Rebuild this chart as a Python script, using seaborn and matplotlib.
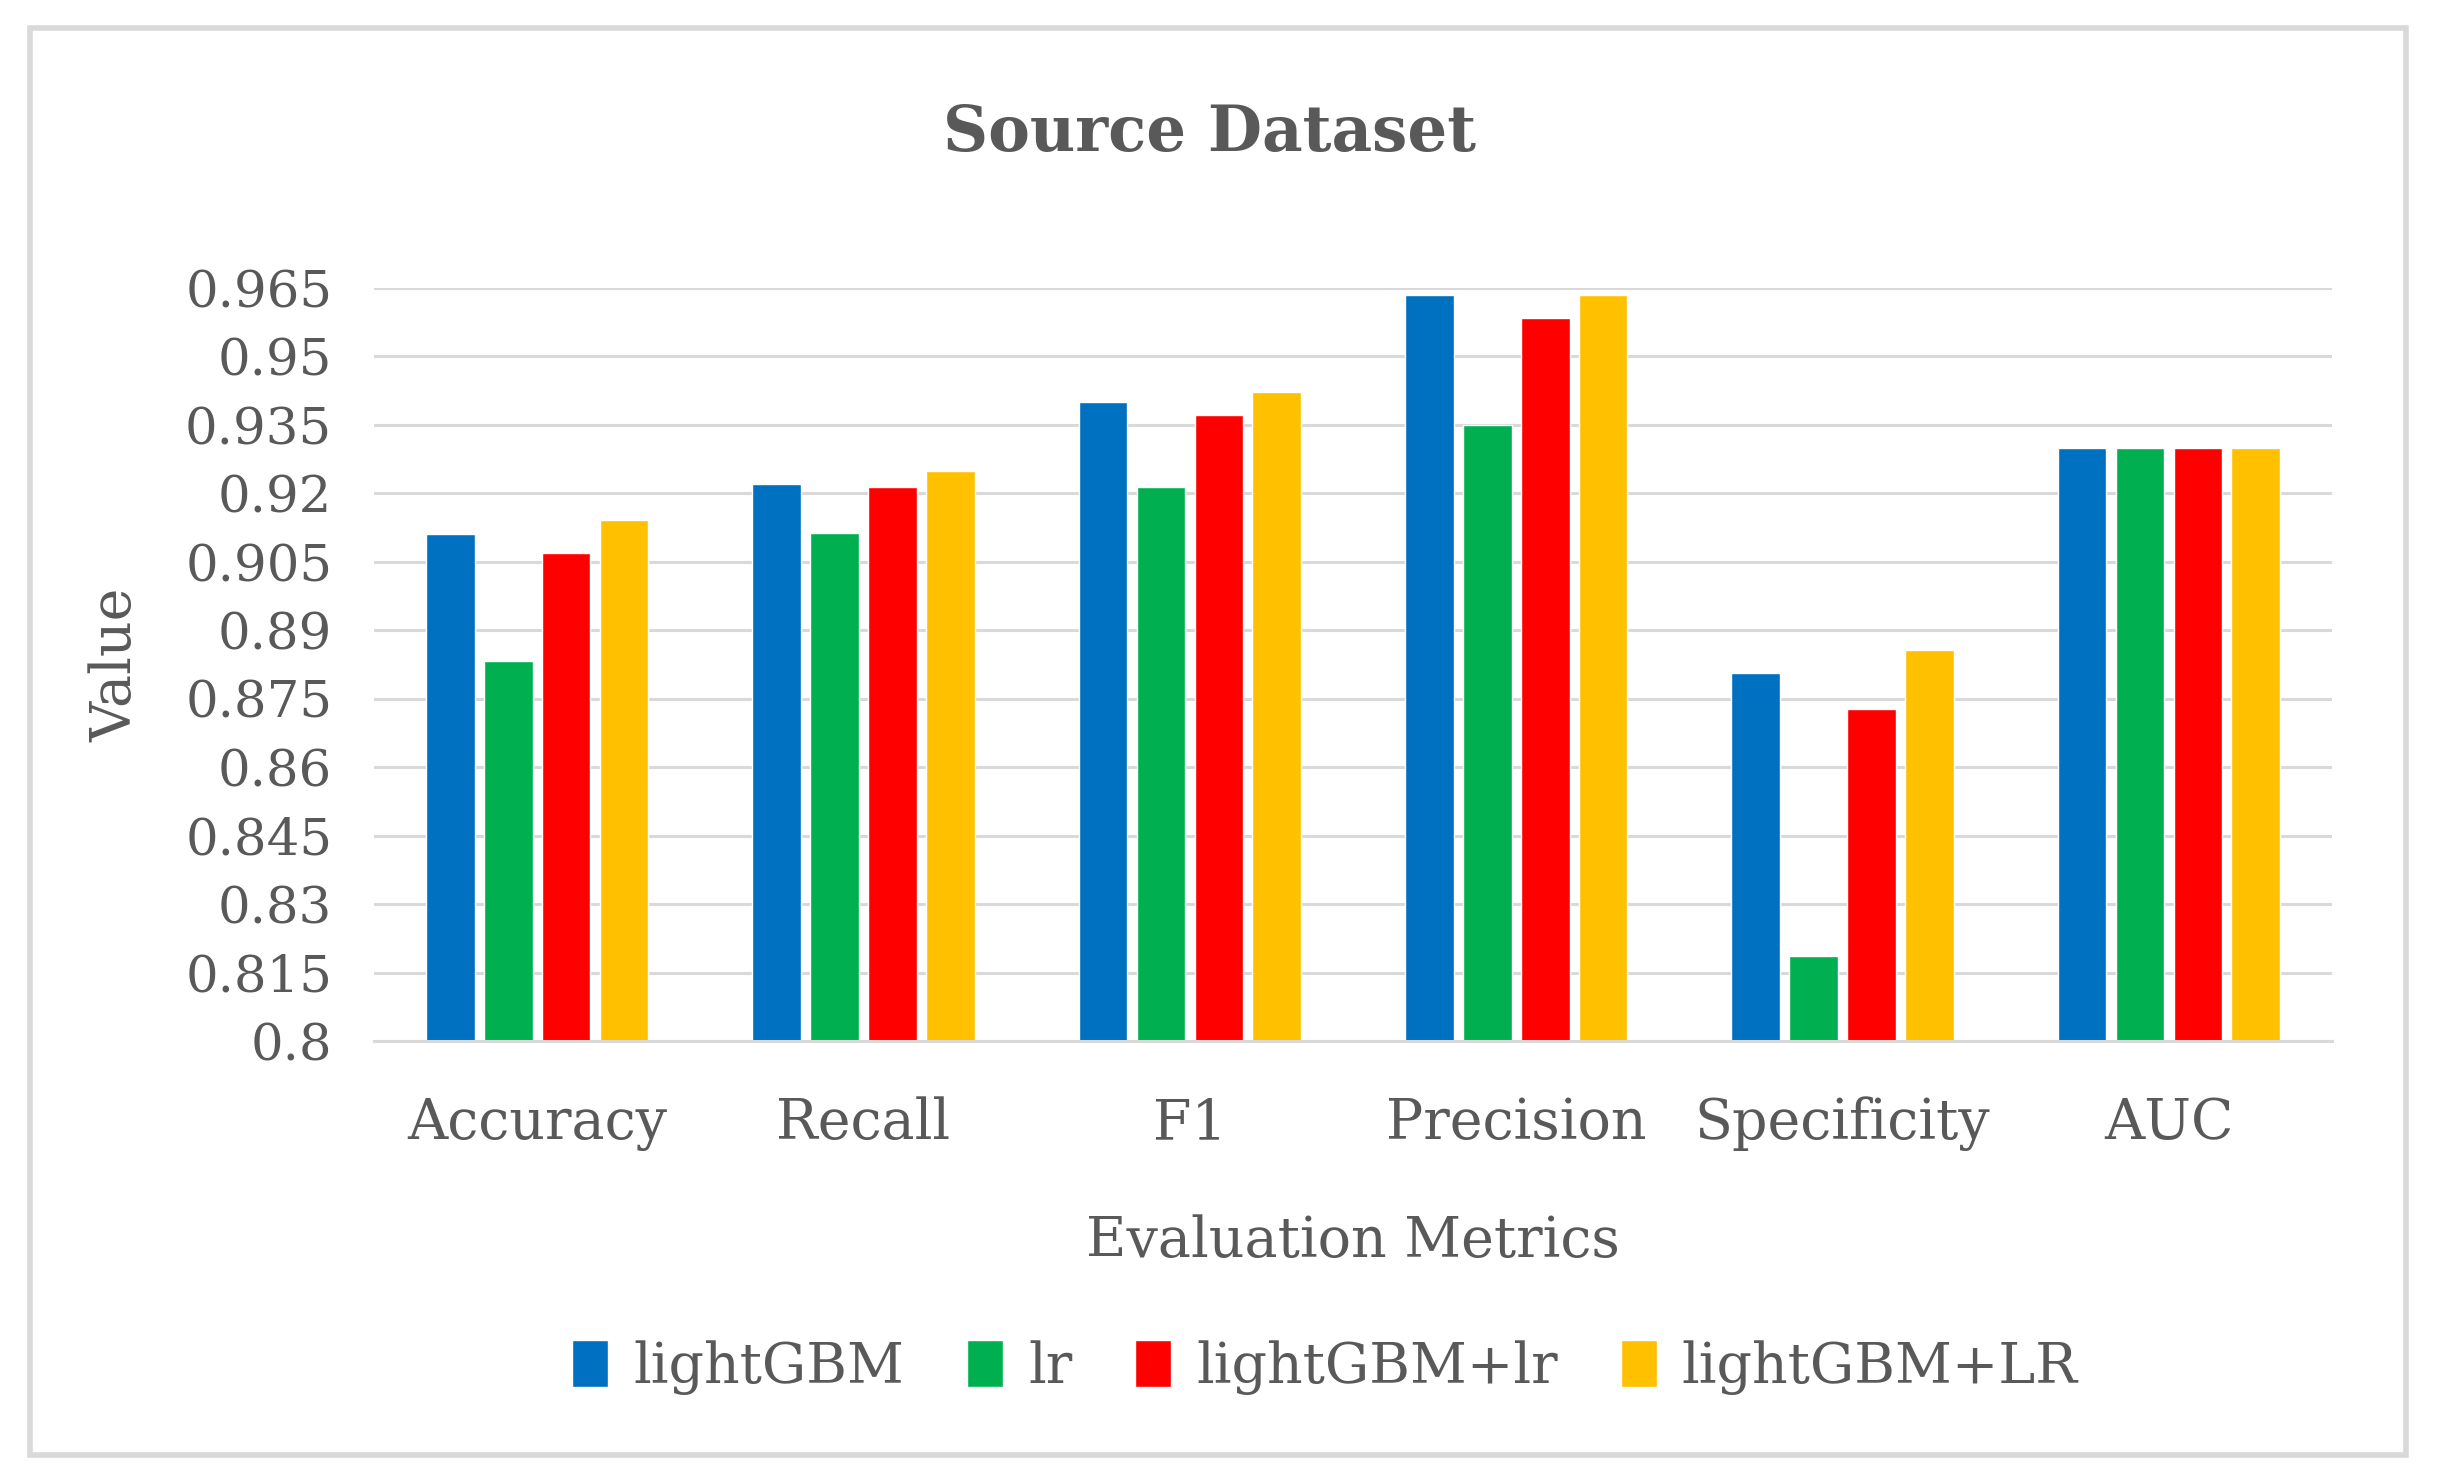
import matplotlib
matplotlib.use("Agg")
import matplotlib.pyplot as plt
import seaborn as sns
import pandas as pd
from matplotlib.patches import Rectangle

metrics = ["Accuracy", "Recall", "F1", "Precision", "Specificity", "AUC"]
models = ["lightGBM", "lr", "lightGBM+lr", "lightGBM+LR"]
lightgbm = [0.9111, 0.9221, 0.9400, 0.9634, 0.8806, 0.9299]
lr = [0.8833, 0.9114, 0.9214, 0.9350, 0.8186, 0.9299]
lightgbm_lr = [0.9070, 0.9214, 0.9372, 0.9584, 0.8727, 0.9299]
lightgbm_LR = [0.9142, 0.9250, 0.9422, 0.9634, 0.8856, 0.9299]
yticks = [0.8, 0.815, 0.83, 0.845, 0.86, 0.875, 0.89, 0.905, 0.92, 0.935, 0.95, 0.965]
ytick_labels = ["0.8", "0.815", "0.83", "0.845", "0.86", "0.875", "0.89", "0.905",
                "0.92", "0.935", "0.95", "0.965"]
colors = ["#0070C0", "#00B050", "#FF0000", "#FFC000"]

series = [lightgbm, lr, lightgbm_lr, lightgbm_LR]
rows = []
for m, vals in zip(models, series):
    for met, v in zip(metrics, vals):
        rows.append({"metric": met, "model": m, "value": v})
df = pd.DataFrame(rows)

sns.set_theme(style="white")
plt.rcParams["font.family"] = ["DejaVu Serif"]
txt = "#595959"

fig = plt.figure(figsize=(24.43, 14.83), dpi=100)
ax = fig.add_axes([0.1531, 0.2980, 0.8015, 0.5078])

sns.barplot(data=df, x="metric", y="value", hue="model", order=metrics,
            hue_order=models, palette=colors, width=0.71, gap=0.16,
            saturation=1, ax=ax, legend=True)

ax.set_ylim(0.8, 0.965)
ax.set_xlim(-0.5, 5.5)
ax.set_yticks(yticks)
ax.set_yticklabels(ytick_labels)
ax.yaxis.grid(True, color="#D9D9D9", linewidth=2.2)
ax.set_axisbelow(True)
for s in ["top", "right", "left"]:
    ax.spines[s].set_visible(False)
ax.spines["bottom"].set_color("#D9D9D9")
ax.spines["bottom"].set_linewidth(2.2)
ax.tick_params(axis="y", length=0, pad=30, labelsize=37, labelcolor=txt)
ax.tick_params(axis="x", length=0, pad=40, labelsize=40, labelcolor=txt)

ax.set_xlabel("Evaluation Metrics", fontsize=40, color=txt)
ax.xaxis.label.set_va("center")
ax.xaxis.set_label_coords(0.5, -0.267)
ax.set_ylabel("Value", fontsize=40, color=txt)
ax.yaxis.label.set_va("center")
ax.yaxis.set_label_coords(-0.1316, 0.5)

fig.text(0.4953, 0.910, "Source Dataset", ha="center", va="center",
         fontsize=45, fontweight="bold", color=txt)

handles, labels = ax.get_legend_handles_labels()
ax.get_legend().remove()
leg = fig.legend(handles, labels, loc="center", bbox_to_anchor=(0.5424, 0.078),
                 ncol=4, frameon=False, fontsize=40, handlelength=0.65,
                 handleheight=0.9, handletextpad=0.45, columnspacing=1.13)
for t in leg.get_texts():
    t.set_color(txt)

fig.patches.append(Rectangle((30 / 2443, 1 - 1455 / 1483), (2406 - 30) / 2443,
                             (1455 - 28) / 1483, transform=fig.transFigure,
                             fill=False, edgecolor="#D9D9D9", linewidth=4))

fig.savefig("out.png", dpi=100, facecolor="white")
